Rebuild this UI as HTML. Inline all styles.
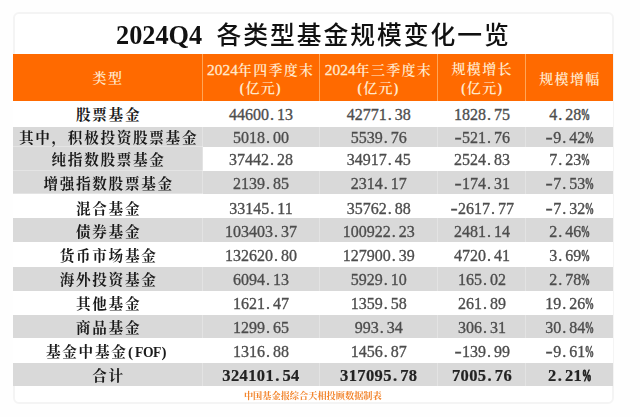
<!DOCTYPE html>
<html lang="zh-CN">
<head>
<meta charset="utf-8">
<title>2024Q4 各类型基金规模变化一览</title>
<style>
*{margin:0;padding:0;box-sizing:border-box}
html,body{width:640px;height:417px;overflow:hidden;background:#fefefe}
body{position:relative;font-family:"Liberation Serif","Noto Serif CJK SC",serif;color:#222}
.card{position:absolute;left:12.5px;top:11.5px;width:601.5px;height:392px;border:2px solid #f4f4f4;border-radius:6px;background:#fff}
.title{position:absolute;top:17.5px;height:36px;white-space:nowrap;color:#111;line-height:36px}
.title.en{left:116px;font-family:"Liberation Serif",serif;font-weight:bold;font-size:26.3px}
.title.zh{left:216.5px;font-family:"Liberation Sans","Noto Sans CJK SC",sans-serif;font-weight:500;font-size:24.8px;letter-spacing:1.95px;top:18px}
.tbl{position:absolute;left:13px;top:54px;width:599.5px;height:333px}
.h{position:absolute;left:0;top:0;width:100%;height:47.2px;background:#ff6a00;color:#ffe8cc;display:flex;font-size:14px;letter-spacing:1.3px;font-weight:600}
.h .hd{font-size:15.4px;letter-spacing:0;font-weight:400;-webkit-text-stroke:0.3px #ffe8cc}
.h .c>div{padding-left:1.3px}
.h .c2>div,.h .c3>div{padding-left:0.4px}
.h .c{display:flex;align-items:center;justify-content:center;text-align:center;line-height:18.2px;padding-top:4.2px;border-right:1px solid rgba(255,215,160,.55)}
.h .c:last-child{border-right:none;padding-top:4.8px}
.h .c1{padding-top:2.2px}
.c1{width:189.5px}.c2{width:117px}.c3{width:118.5px}.c4{width:88px}.c5{width:86.5px}
.r{position:absolute;left:0;width:100%;display:flex;background:#fff}
.r.g{background:#d9d9d9}
.r.sub .c1{background:#d9d9d9;box-shadow:inset 0 -1px 0 rgba(255,255,255,.3)}
.r .c{position:relative;height:100%;padding-top:var(--p);line-height:20px;text-align:center;white-space:nowrap;font-size:16px}
.r .c1{font-weight:bold;color:#1a1a1a;font-size:14.6px;letter-spacing:1.7px;padding-left:1.7px}
.r .c+.c:before{content:"";position:absolute;left:-1px;top:0;bottom:0;width:1px;background:rgba(255,255,255,.28)}
.n{color:#4d4d4d;-webkit-text-stroke:0.33px #4d4d4d}
.n i{font-style:normal;display:inline-block;width:8px;text-align:center}
.n i.d{text-align:left;padding-left:1px}
.n i.p b{display:inline-block;font-weight:bold;-webkit-text-stroke:0.5px #4d4d4d;transform:translateX(.5px) scaleX(.58);transform-origin:50% 50%;margin:0 -4px}
.n i.m{transform:translateX(1.5px) scaleX(1.35);transform-origin:100% 50%}
.tot .n{font-weight:bold;color:#222;-webkit-text-stroke:0.2px #222;font-size:16.5px;letter-spacing:0.4px}
.tot .n i{width:8.25px}
.tot .n i.p b{-webkit-text-stroke:1px #222}
.tbl,.title,.foot,.card{filter:blur(0.55px)}
.fof{font-weight:bold;font-size:15px;letter-spacing:-0.4px;margin-left:0.5px;margin-right:5px}
.ff{font-size:13.6px;margin-left:2.4px;margin-right:0.6px}
.foot{position:absolute;left:237.8px;top:389.7px;width:150px;font-size:9.2px;line-height:12px;color:#f2832a;white-space:nowrap;text-align:center;font-weight:700}
</style>
</head>
<body>
<div class="card"></div>
<div class="title en">2024Q4</div><div class="title zh">各类型基金规模变化一览</div>
<div class="tbl">
<div class="h"><div class="c c1"><div>类型</div></div><div class="c c2"><div><span class="hd">2024</span>年四季度末<br>(亿元)</div></div><div class="c c3"><div><span class="hd">2024</span>年三季度末<br>(亿元)</div></div><div class="c c4"><div>规模增长<br>(亿元)</div></div><div class="c c5"><div>规模增幅</div></div></div>
<div class="r " style="top:47.20px;height:25.40px;--p:4.30px"><div class="c c1">股票基金</div><div class="c c2 n">44600<i class="d">.</i>13</div><div class="c c3 n">42771<i class="d">.</i>38</div><div class="c c4 n">1828<i class="d">.</i>75</div><div class="c c5 n">4<i class="d">.</i>28<i class="p"><b>%</b></i></div></div>
<div class="r g sub" style="top:72.60px;height:20.00px;--p:1.40px"><div class="c c1">其中，积极投资股票基金</div><div class="c c2 n">5018<i class="d">.</i>00</div><div class="c c3 n">5539<i class="d">.</i>76</div><div class="c c4 n"><i class="m">-</i>521<i class="d">.</i>76</div><div class="c c5 n"><i class="m">-</i>9<i class="d">.</i>42<i class="p"><b>%</b></i></div></div>
<div class="r sub" style="top:92.60px;height:24.20px;--p:3.80px"><div class="c c1">纯指数股票基金</div><div class="c c2 n">37442<i class="d">.</i>28</div><div class="c c3 n">34917<i class="d">.</i>45</div><div class="c c4 n">2524<i class="d">.</i>83</div><div class="c c5 n">7<i class="d">.</i>23<i class="p"><b>%</b></i></div></div>
<div class="r g sub" style="top:116.80px;height:22.90px;--p:3.40px"><div class="c c1">增强指数股票基金</div><div class="c c2 n">2139<i class="d">.</i>85</div><div class="c c3 n">2314<i class="d">.</i>17</div><div class="c c4 n"><i class="m">-</i>174<i class="d">.</i>31</div><div class="c c5 n"><i class="m">-</i>7<i class="d">.</i>53<i class="p"><b>%</b></i></div></div>
<div class="r " style="top:139.70px;height:24.70px;--p:4.90px"><div class="c c1">混合基金</div><div class="c c2 n">33145<i class="d">.</i>11</div><div class="c c3 n">35762<i class="d">.</i>88</div><div class="c c4 n"><i class="m">-</i>2617<i class="d">.</i>77</div><div class="c c5 n"><i class="m">-</i>7<i class="d">.</i>32<i class="p"><b>%</b></i></div></div>
<div class="r g" style="top:164.40px;height:23.80px;--p:3.60px"><div class="c c1">债券基金</div><div class="c c2 n">103403<i class="d">.</i>37</div><div class="c c3 n">100922<i class="d">.</i>23</div><div class="c c4 n">2481<i class="d">.</i>14</div><div class="c c5 n">2<i class="d">.</i>46<i class="p"><b>%</b></i></div></div>
<div class="r " style="top:188.20px;height:24.80px;--p:4.10px"><div class="c c1">货币市场基金</div><div class="c c2 n">132620<i class="d">.</i>80</div><div class="c c3 n">127900<i class="d">.</i>39</div><div class="c c4 n">4720<i class="d">.</i>41</div><div class="c c5 n">3<i class="d">.</i>69<i class="p"><b>%</b></i></div></div>
<div class="r g" style="top:213.00px;height:23.50px;--p:3.20px"><div class="c c1">海外投资基金</div><div class="c c2 n">6094<i class="d">.</i>13</div><div class="c c3 n">5929<i class="d">.</i>10</div><div class="c c4 n">165<i class="d">.</i>02</div><div class="c c5 n">2<i class="d">.</i>78<i class="p"><b>%</b></i></div></div>
<div class="r " style="top:236.50px;height:24.50px;--p:3.70px"><div class="c c1">其他基金</div><div class="c c2 n">1621<i class="d">.</i>47</div><div class="c c3 n">1359<i class="d">.</i>58</div><div class="c c4 n">261<i class="d">.</i>89</div><div class="c c5 n">19<i class="d">.</i>26<i class="p"><b>%</b></i></div></div>
<div class="r g" style="top:261.00px;height:23.30px;--p:3.40px"><div class="c c1">商品基金</div><div class="c c2 n">1299<i class="d">.</i>65</div><div class="c c3 n">993<i class="d">.</i>34</div><div class="c c4 n">306<i class="d">.</i>31</div><div class="c c5 n">30<i class="d">.</i>84<i class="p"><b>%</b></i></div></div>
<div class="r " style="top:284.30px;height:24.70px;--p:3.90px"><div class="c c1">基金中基金<span class="fof">(<span class="ff">FOF</span>)</span></div><div class="c c2 n">1316<i class="d">.</i>88</div><div class="c c3 n">1456<i class="d">.</i>87</div><div class="c c4 n"><i class="m">-</i>139<i class="d">.</i>99</div><div class="c c5 n"><i class="m">-</i>9<i class="d">.</i>61<i class="p"><b>%</b></i></div></div>
<div class="r g tot" style="top:309.00px;height:23.40px;--p:3.40px"><div class="c c1">合计</div><div class="c c2 n">324101<i class="d">.</i>54</div><div class="c c3 n">317095<i class="d">.</i>78</div><div class="c c4 n">7005<i class="d">.</i>76</div><div class="c c5 n">2<i class="d">.</i>21<i class="p"><b>%</b></i></div></div>
</div>
<div class="foot">中国基金报综合天相投顾数据制表</div>
</body>
</html>
